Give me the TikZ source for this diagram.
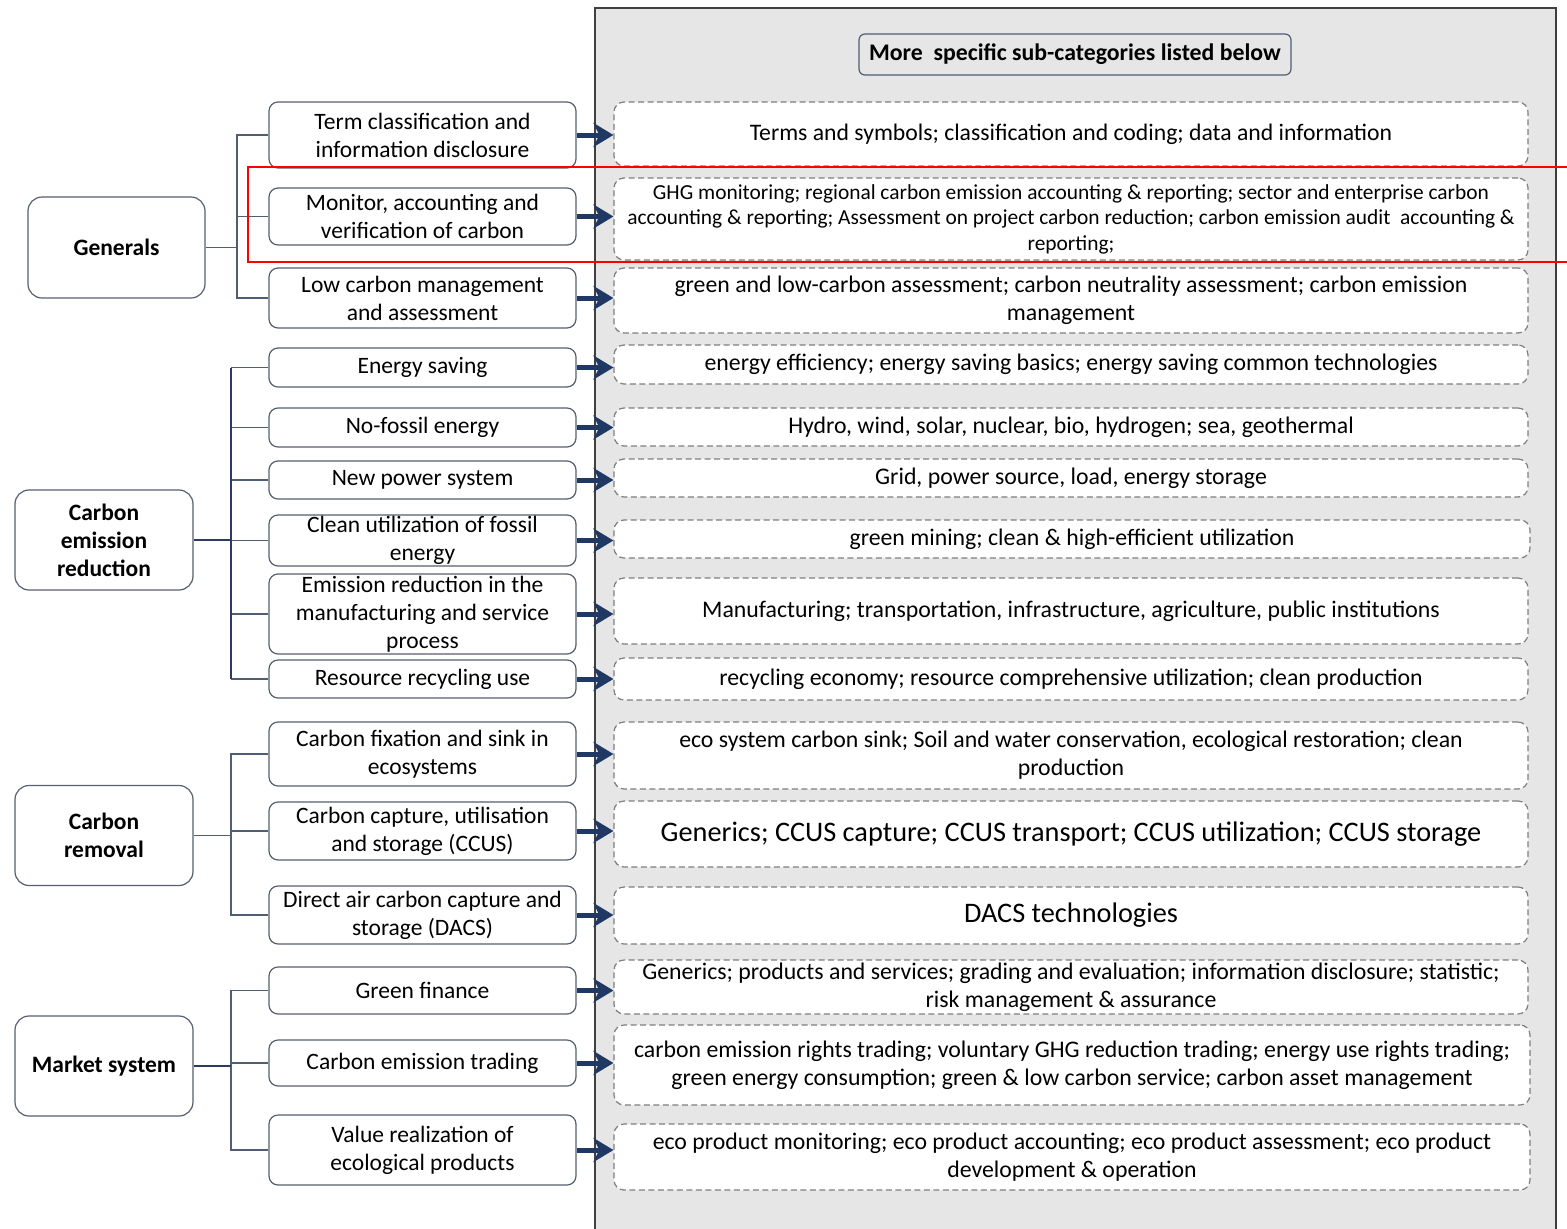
\documentclass[tikz,border=0pt]{standalone}
\usepackage{fontspec}
\setmainfont{Carlito}
\usetikzlibrary{arrows.meta}
\definecolor{panelgray}{HTML}{E6E6E6}
\definecolor{panelborder}{HTML}{404040}
\definecolor{slate}{HTML}{4F5D75}
\definecolor{trunk}{HTML}{2E3B5E}
\definecolor{boxline}{HTML}{56606E}
\definecolor{navy}{HTML}{203864}
\definecolor{dashgray}{HTML}{7F7F7F}
\tikzset{
  catbox/.style={draw=boxline, line width=1.2pt, rounded corners=14pt, fill=white,
    align=center, inner sep=0pt, minimum width=178pt, minimum height=100pt,
    font=\fontsize{23.5}{28}\selectfont\bfseries},
  midbox/.style={draw=boxline, line width=1.2pt, rounded corners=9pt, fill=white,
    align=center, inner sep=0pt, minimum width=307pt,
    font=\fontsize{23.5}{28}\selectfont},
  detbox/.style={draw=dashgray, line width=1.2pt, dash pattern=on 6pt off 3.5pt,
    rounded corners=10pt, fill=white, align=center, inner sep=0pt,
    minimum width=914pt},
  treeline/.style={draw=slate, line width=1.1pt},
  trunkline/.style={draw=trunk, line width=1.8pt},
  bigarrow/.style={draw=navy, line width=5pt,
    -{Stealth[length=20pt,width=24pt,inset=6pt]}},
}
\begin{document}
\begin{tikzpicture}[x=1pt,y=-1pt]
\useasboundingbox (0,0) rectangle (1567,1229);
% panel
\draw[fill=panelgray, draw=panelborder, line width=1.4pt] (595,8) rectangle (1556,1245);
\node[draw=slate, line width=1.2pt, rounded corners=6pt, fill=panelgray, inner sep=0pt,
  minimum width=432pt, minimum height=41pt, font=\fontsize{23.8}{26}\selectfont\bfseries]
  (hdr) at (1075,54.5) {More\ \ specific sub-categories listed below};

% category boxes
\node[catbox, minimum width=177pt, minimum height=101pt] (gen) at (116.5,247.5) {Generals};
\node[catbox] (cer) at (104,540) {Carbon\\emission\\reduction};
\node[catbox] (crm) at (104,835.5) {Carbon\\removal};
\node[catbox] (mkt) at (104,1066) {Market system};

% middle boxes
\node[midbox, minimum height=66pt] (m1) at (422.5,135) {Term classification and\\information disclosure};
\node[midbox, minimum height=57pt] (m2) at (422.5,216.5) {Monitor, accounting and\\verification of carbon};
\node[midbox, minimum height=60pt] (m3) at (422.5,298) {Low carbon management\\and assessment};
\node[midbox, minimum height=39pt] (m4) at (422.5,367.5) {Energy saving};
\node[midbox, minimum height=39pt] (m5) at (422.5,427.5) {No-fossil energy};
\node[midbox, minimum height=38pt] (m6) at (422.5,480) {New power system};
\node[midbox, minimum height=51pt] (m7) at (422.5,540.5) {Clean utilization of fossil\\energy};
\node[midbox, minimum height=80pt] (m8) at (422.5,614) {Emission reduction in the\\manufacturing and service\\process};
\node[midbox, minimum height=38pt] (m9) at (422.5,679) {Resource recycling use};
\node[midbox, minimum height=64pt] (m10) at (422.5,754) {Carbon fixation and sink in\\ecosystems};
\node[midbox, minimum height=58pt] (m11) at (422.5,831) {Carbon capture, utilisation\\and storage (CCUS)};
\node[midbox, minimum height=58pt] (m12) at (422.5,915) {Direct air carbon capture and\\storage (DACS)};
\node[midbox, minimum height=47pt] (m13) at (422.5,990.5) {Green finance};
\node[midbox, minimum height=46pt] (m14) at (422.5,1063) {Carbon emission trading};
\node[midbox, minimum height=70pt] (m15) at (422.5,1150) {Value realization of\\ecological products};

% detail boxes
\node[detbox, minimum height=64pt, font=\fontsize{23.7}{28}\selectfont] (r1) at (1071,134) {Terms and symbols; classification and coding; data and information};
\node[detbox, minimum height=82pt, font=\fontsize{21.4}{25.5}\selectfont] (r2) at (1071,219) {GHG monitoring; regional carbon emission accounting \& reporting; sector and enterprise carbon\\accounting \& reporting; Assessment on project carbon reduction; carbon emission audit\ \ accounting \&\\reporting;};
\node[detbox, minimum height=65pt, font=\fontsize{23.8}{28}\selectfont] (r3) at (1071,300.5) {green and low-carbon assessment; carbon neutrality assessment; carbon emission\\management};
\node[detbox, minimum height=39pt, font=\fontsize{23.8}{28}\selectfont] (r4) at (1071,364.5) {energy efficiency; energy saving basics; energy saving common technologies};
\node[detbox, minimum height=38pt, font=\fontsize{23.8}{28}\selectfont] (r5) at (1071,427) {Hydro, wind, solar, nuclear, bio, hydrogen; sea, geothermal};
\node[detbox, minimum height=38pt, font=\fontsize{23.8}{28}\selectfont] (r6) at (1071,478) {Grid, power source, load, energy storage};
\node[detbox, minimum height=38pt, minimum width=916pt, font=\fontsize{23.8}{28}\selectfont] (r7) at (1072,539) {green mining; clean \& high-efficient utilization};
\node[detbox, minimum height=66pt, font=\fontsize{23.8}{28}\selectfont] (r8) at (1071,611) {Manufacturing; transportation, infrastructure, agriculture, public institutions};
\node[detbox, minimum height=42pt, font=\fontsize{23.8}{28}\selectfont] (r9) at (1071,679) {recycling economy; resource comprehensive utilization; clean production};
\node[detbox, minimum height=67pt, font=\fontsize{23.8}{28}\selectfont] (r10) at (1071,755.5) {eco system carbon sink; Soil and water conservation, ecological restoration; clean\\production};
\node[detbox, minimum height=66pt, font=\fontsize{28.3}{30}\selectfont] (r11) at (1071,834) {Generics; CCUS capture; CCUS transport; CCUS utilization; CCUS storage};
\node[detbox, minimum height=57pt, font=\fontsize{28.3}{30}\selectfont] (r12) at (1071,915.5) {DACS technologies};
\node[detbox, minimum height=54pt, font=\fontsize{23.8}{28}\selectfont] (r13) at (1071,987) {Generics; products and services; grading and evaluation; information disclosure; statistic;\\risk management \& assurance};
\node[detbox, minimum height=80pt, minimum width=916pt, font=\fontsize{23.8}{28}\selectfont] (r14) at (1072,1065) {carbon emission rights trading; voluntary GHG reduction trading; energy use rights trading;\\green energy consumption; green \& low carbon service; carbon asset management};
\node[detbox, minimum height=66pt, minimum width=916pt, font=\fontsize{23.8}{28}\selectfont] (r15) at (1072,1157) {eco product monitoring; eco product accounting; eco product assessment; eco product\\development \& operation};

% tree lines
\coordinate (tg) at (237,247.5);
\draw[treeline] (m1.west) -| (tg) |- (m3.west);
\draw[treeline] (tg |- m2.west) -- (m2.west);
\draw[treeline] (gen.east) -- (tg);

\coordinate (tc) at (231,540);
\foreach \m in {m5,m6,m7,m8} \draw[treeline] (tc |- \m.west) -- (\m.west);
\draw[treeline] (m4.west) -- (tc |- m4.west);
\draw[treeline] (m9.west) -- (tc |- m9.west);
\draw[trunkline] (tc |- m4.west) -- (tc |- m9.west);
\draw[trunkline] (cer.east) -- (tc);

\coordinate (tr) at (231,835.5);
\draw[treeline] (m10.west) -| (tr) |- (m12.west);
\draw[treeline] (tr |- m11.west) -- (m11.west);
\draw[treeline] (crm.east) -- (tr);

\coordinate (tm) at (231,1066);
\draw[treeline] (m13.west) -| (tm) |- (m15.west);
\draw[treeline] (tm |- m14.west) -- (m14.west);
\draw[trunkline] (mkt.east) -- (tm);

% arrows
\foreach \a/\b in {m1/r1,m2/r2,m3/r3,m4/r4,m5/r5,m6/r6,m7/r7,m8/r8,m9/r9,m10/r10,m11/r11,m12/r12,m13/r13,m14/r14,m15/r15}
  \draw[bigarrow] (\a.east) -- (\a.east -| \b.west);

% red highlight
\draw[red, line width=2.4pt] (1570,167) -- (248,167) -- (248,262) -- (1570,262);
\end{tikzpicture}
\end{document}
